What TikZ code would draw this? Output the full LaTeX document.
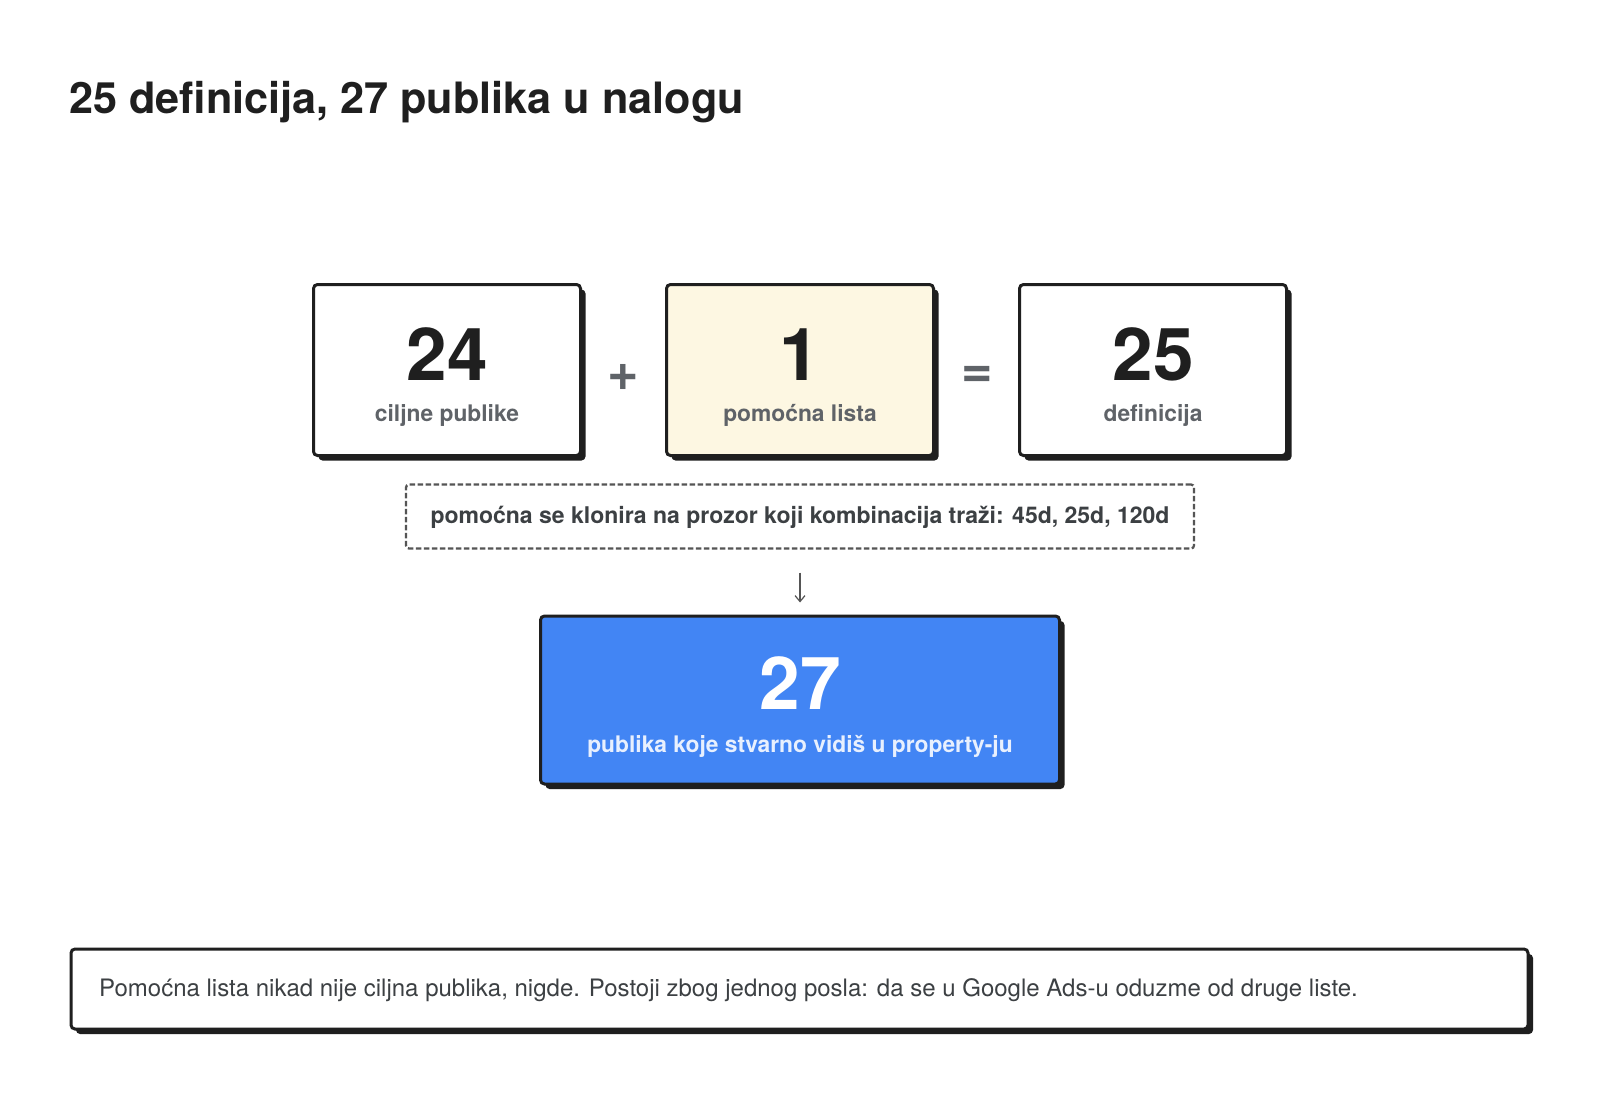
\documentclass[tikz,border=0pt]{standalone}
\usepackage{fontspec}
\setmainfont{TeX Gyre Heros}
\usetikzlibrary{shadows,arrows.meta}
\definecolor{ink}{HTML}{1F1F1F}
\definecolor{labelgray}{HTML}{5F6368}
\definecolor{textgray}{HTML}{3C4043}
\definecolor{cream}{HTML}{FDF7E2}
\definecolor{gblue}{HTML}{4285F4}
\definecolor{bluelabel}{HTML}{E8F0FE}
\definecolor{dashgray}{HTML}{555555}
\tikzset{
  card/.style={draw=ink, line width=3pt, rounded corners=4pt, fill=white,
    drop shadow={shadow xshift=5pt, shadow yshift=-5pt, opacity=1, fill=ink},
    minimum width=267pt, minimum height=171pt, inner sep=0pt},
  bignum/.style={font=\fontsize{73}{73}\selectfont\bfseries, text=ink, anchor=base, inner sep=0pt},
  cardlabel/.style={font=\fontsize{22.8}{22.8}\selectfont\bfseries, text=labelgray, anchor=base, inner sep=0pt},
  opsign/.style={font=\fontsize{54}{54}\selectfont\bfseries, text=labelgray, inner sep=0pt},
  notebox/.style={draw=dashgray, line width=2.3pt, dash pattern=on 5.5pt off 2.5pt, rounded corners=3pt, minimum width=788pt, minimum height=64pt, inner sep=0pt},
}
\begin{document}
\begin{tikzpicture}[x=1pt,y=-1pt]
\useasboundingbox[fill=white] (0,0) rectangle (1600,1100);
% title
\node[anchor=base west, inner sep=0pt, text=ink, font=\fontsize{43.2}{43.2}\selectfont\bfseries] (title) at (69,113) {25 definicija, 27 publika u nalogu};
% cards
\node[card] (c1) at (447,370) {};
\node[card, fill=cream] (c2) at (800,370) {};
\node[card] (c3) at (1153,370) {};
\node[bignum] (n1) at (447,380) {24};
\node[cardlabel] (l1) at (447,421) {ciljne publike};
\node[bignum] (n2) at (800,380) {1};
\node[cardlabel] (l2) at (800,421) {pomoćna lista};
\node[bignum] (n3) at (1153,380) {25};
\node[cardlabel] (l3) at (1153,421) {definicija};
\node[opsign] (plus) at (623,377) {+};
\node[opsign] (eq) at (977,377) {=};
% note
\node[notebox] (note) at (800,516.5) {};
\node[anchor=base, inner sep=0pt, text=textgray, font=\fontsize{23}{23}\selectfont\bfseries] (notetext) at (800,523) {pomoćna se klonira na prozor koji kombinacija traži: 45d, 25d, 120d};
% result
\node[card, fill=gblue, minimum width=519pt, minimum height=168pt] (res) at (800,700) {};
\node[bignum, text=white] (n4) at (800,709) {27};
\node[cardlabel, text=bluelabel] (l4) at (800,752) {publika koje stvarno vidiš u property-ju};
\draw[draw=dashgray, line width=1.2pt, -{Straight Barb[length=6pt,width=10pt]}, shorten <=23pt, shorten >=12pt] (note.south) -- (res.north);
% footer
\node[card, minimum width=1457pt, minimum height=80pt] (foot) at (799.5,989) {};
\node[anchor=base west, inner sep=0pt, text=textgray, font=\fontsize{24}{24}\selectfont] (foottext) at (99,996) {Pomoćna lista nikad nije ciljna publika, nigde. Postoji zbog jednog posla: da se u Google Ads-u oduzme od druge liste.};
\end{tikzpicture}
\end{document}
